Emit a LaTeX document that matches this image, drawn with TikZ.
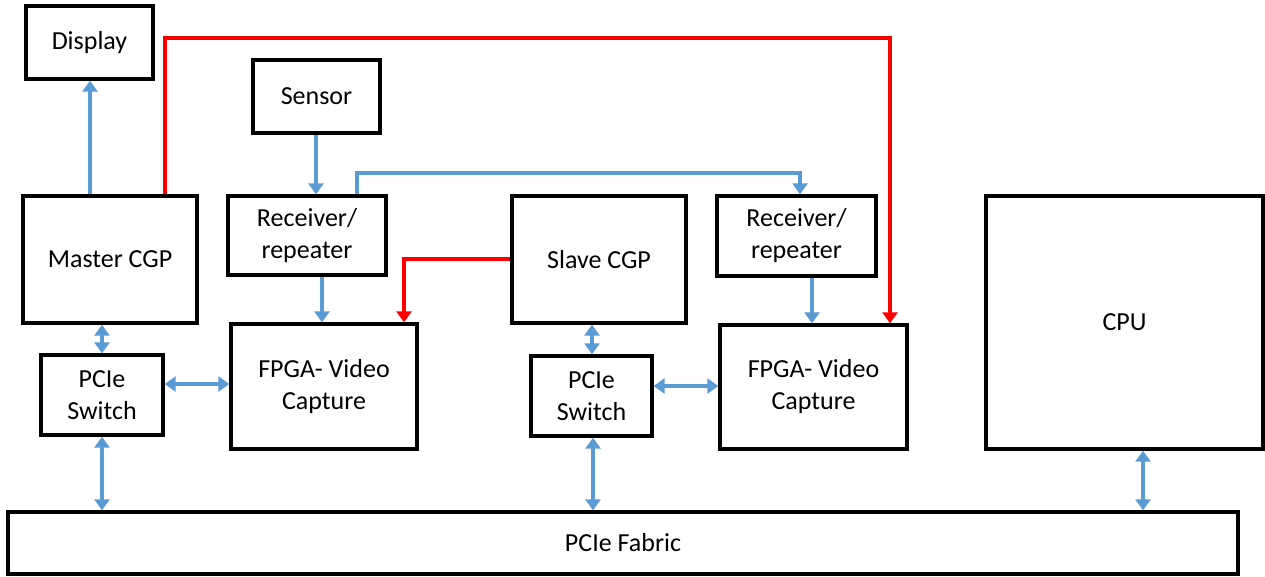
\documentclass[tikz,border=0pt]{standalone}
\usepackage{fontspec}
\setmainfont{Carlito}
\usetikzlibrary{arrows.meta}
\definecolor{linkblue}{RGB}{91,155,213}
\definecolor{ctrlred}{RGB}{255,0,0}
\tikzset{
  box/.style={draw=black, line width=3.4pt, fill=white, inner sep=0pt,
    align=center, font=\fontsize{26}{32}\selectfont},
  tip/.style={Triangle[width=15pt,length=11pt]},
  blu/.style={draw=linkblue, line width=3.4pt, -{Triangle[width=15pt,length=11pt]}},
  bidir/.style={draw=linkblue, line width=3.4pt,
    {Triangle[width=15pt,length=11pt]}-{Triangle[width=15pt,length=11pt]}},
  redlink/.style={draw=ctrlred, line width=3.4pt, -{Triangle[width=15pt,length=11pt]}},
}
\newcommand{\blk}[6]{% name, x1, y1, x2, y2, text
  \node[box, minimum width=#4pt-#2pt, minimum height=#5pt-#3pt]
    (#1) at ({(#2+#4)/2},{(#3+#5)/2}) {#6};}
\begin{document}
\begin{tikzpicture}[x=1pt,y=-1pt]
\useasboundingbox (0,0) rectangle (1265,576);

% blocks
\blk{display}{26}{6}{153}{79}{Display}
\blk{master}{23}{196}{197}{323}{Master CGP}
\blk{sensor}{253}{60}{380}{133}{Sensor}
\blk{rxa}{228}{196}{386}{275}{Receiver/\\repeater}
\blk{fpgaa}{231}{324}{417}{449}{FPGA- Video\\Capture}
\blk{swa}{41}{355}{163}{435}{PCIe\\Switch}
\blk{slave}{512}{196}{686}{323}{Slave CGP}
\blk{swb}{531}{356}{652}{436}{PCIe\\Switch}
\blk{rxb}{717}{196}{876}{276}{Receiver/\\repeater}
\blk{fpgab}{720}{325}{907}{449}{FPGA- Video\\Capture}
\blk{cpu}{986}{196}{1263}{449}{CPU}
\blk{fabric}{8}{512}{1238}{574}{PCIe Fabric}

% video / data paths
\draw[blu] (master.north -| 90,0) -- (display.south -| 90,0);
\draw[blu] (sensor.south -| 316,0) -- (rxa.north -| 316,0);
\draw[blu] (rxa.north -| 357,0) -- (357,173) -- (800,173) -- (rxb.north -| 800,0);
\draw[blu] (rxa.south -| 322,0) -- (fpgaa.north -| 322,0);
\draw[blu] (rxb.south -| 812,0) -- (fpgab.north -| 812,0);

% PCIe links
\draw[bidir] (master.south -| 102,0) -- (swa.north -| 102,0);
\draw[bidir] (swa.east |- 0,384) -- (fpgaa.west |- 0,384);
\draw[bidir] (swa.south -| 102,0) -- (fabric.north -| 102,0);
\draw[bidir] (slave.south -| 592,0) -- (swb.north -| 592,0);
\draw[bidir] (swb.east |- 0,386) -- (fpgab.west |- 0,386);
\draw[bidir] (swb.south -| 593,0) -- (fabric.north -| 593,0);
\draw[bidir] (cpu.south -| 1143,0) -- (fabric.north -| 1143,0);

% control paths
\draw[redlink] (master.north -| 165,0) -- (165,38) -- (890,38) -- (fpgab.north -| 890,0);
\draw[redlink] (slave.west |- 0,259) -- (404,259) -- (fpgaa.north -| 404,0);
\end{tikzpicture}
\end{document}
